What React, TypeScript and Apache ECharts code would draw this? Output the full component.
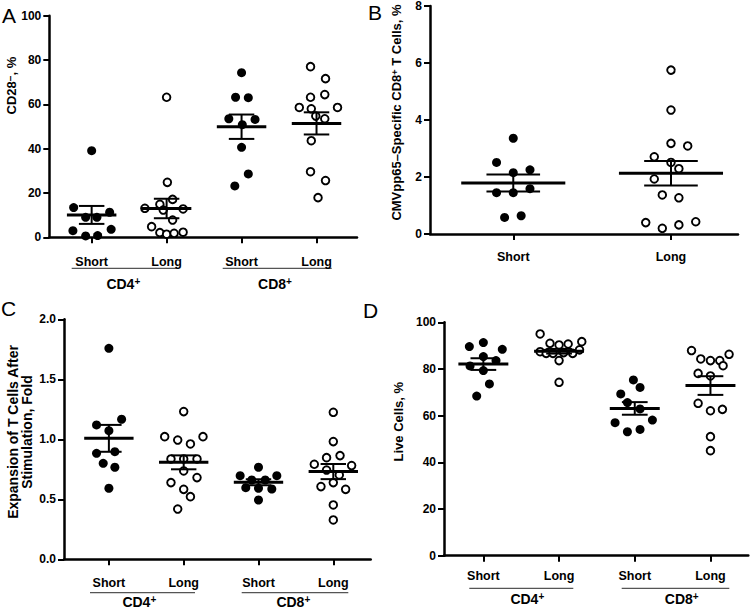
import React, { useEffect, useRef } from 'react';
import * as echarts from 'echarts';

const FONT = 'Arial, Liberation Sans, sans-serif';

// ---------- tick / category labels ----------
const catsFour = ['Short', 'Long', 'Short', 'Long'];
const catsTwo = ['Short', 'Long'];

// ---------- Panel A: CD28-, % ([jitter offset, value]) ----------
const aCD4Short = [[0, 39.1], [-0.24, 13.4], [0.24, 11.3], [-0.08, 9.0], [0.07, 9.0], [-0.25, 3.0], [0.26, 3.6], [-0.08, 0.6], [0.08, 0.8]];
const aCD4Long = [[0, 63.2], [0.01, 24.8], [0.08, 17.1], [-0.09, 14.9], [-0.29, 13.1], [0.22, 12.8], [-0.045, 12.3], [0.08, 7.8], [-0.2, 4.8], [-0.09, 2.1], [0, 1.4], [0.1, 1.8], [0.22, 2.3]];
const aCD8Short = [[0, 74.3], [-0.08, 63.2], [0.09, 63.0], [-0.17, 53.5], [0.01, 50.8], [0.18, 53.2], [0, 40.6], [0.09, 28.6], [-0.09, 23.2]];
const aCD8Long = [[-0.08, 77.0], [0.12, 71.6], [-0.08, 63.2], [0.11, 64.4], [-0.23, 58.6], [-0.07, 58.0], [0.28, 58.6], [-0.01, 54.7], [0.11, 53.5], [-0.07, 43.6], [-0.08, 29.6], [0.12, 25.6], [0.02, 17.9]];
const aMeans = [10.1, 13.0, 49.9, 51.4];
const aSems = [4.05, 4.4, 5.5, 5.0];

// ---------- Panel B: CMVpp65-specific CD8+ T cells, % ----------
const bShort = [[0, 3.36], [-0.106, 2.51], [0, 2.15], [0.106, 2.25], [-0.106, 1.45], [0, 1.45], [0.106, 1.59], [-0.055, 0.58], [0.05, 0.64]];
const bLong = [[0, 5.75], [0, 4.35], [0, 3.18], [0.106, 3.09], [-0.106, 2.71], [0, 2.51], [0.05, 2.29], [-0.106, 1.93], [-0.055, 1.37], [0.05, 1.27], [-0.16, 0.4], [-0.055, 0.2], [0.05, 0.32], [0.157, 0.43]];
const bMeans = [1.79, 2.13];
const bSems = [0.3, 0.43];

// ---------- Panel C: Expansion after stimulation, fold ----------
const cCD4Short = [[0, 1.758], [-0.165, 1.12], [0.17, 1.167], [0, 1.072], [-0.165, 0.883], [0.08, 0.897], [-0.076, 0.8], [0.08, 0.767], [0, 0.592]];
const cCD4Long = [[0, 1.231], [-0.254, 1.022], [-0.08, 0.994], [0.258, 1.022], [0.09, 0.961], [-0.17, 0.836], [0, 0.836], [0.178, 0.836], [0, 0.736], [-0.17, 0.639], [0.178, 0.681], [0, 0.583], [0.09, 0.522], [-0.08, 0.419]];
const cCD8Short = [[0, 0.767], [-0.245, 0.697], [-0.09, 0.661], [0.09, 0.661], [0.245, 0.697], [-0.17, 0.597], [0, 0.592], [0.178, 0.586], [0, 0.494]];
const cCD8Long = [[0, 1.225], [0, 0.981], [-0.09, 0.847], [0.09, 0.864], [-0.254, 0.792], [-0.09, 0.744], [0.245, 0.781], [0.08, 0.703], [-0.165, 0.606], [0, 0.639], [0.165, 0.583], [0, 0.453], [0, 0.328]];
const cMeans = [1.008, 0.808, 0.642, 0.731];
const cSems = [0.112, 0.058, 0.025, 0.063];

// ---------- Panel D: Live cells, % ----------
const dCD4Short = [[0, 91.3], [-0.185, 89.6], [0.25, 88.4], [0, 85.3], [0.167, 83.6], [-0.176, 81.3], [0, 79.3], [0.08, 73.6], [-0.088, 68.4]];
const dCD4Long = [[-0.25, 95.0], [-0.12, 91.0], [0, 90.3], [0.12, 90.7], [0.3, 91.7], [-0.25, 87.4], [-0.17, 86.7], [-0.08, 86.7], [0.06, 87.0], [0.18, 86.7], [0.27, 88.2], [0, 83.6], [0, 74.3]];
const dCD8Short = [[-0.018, 75.3], [0.07, 72.1], [-0.185, 69.3], [-0.097, 65.6], [0.07, 62.9], [-0.26, 57.0], [0.233, 58.1], [-0.097, 53.1], [0.07, 54.1]];
const dCD8Long = [[-0.25, 87.9], [-0.128, 84.3], [0, 83.6], [0.123, 83.6], [0.246, 86.3], [-0.163, 78.1], [0, 77.0], [0.167, 81.4], [-0.163, 65.3], [0, 62.1], [0.158, 62.7], [0, 51.0], [0, 45.0]];
const dMeans = [82.1, 87.6, 63.1, 72.9];
const dSems = [2.5, 1.0, 2.7, 4.0];

type Panel = {
  grid: { left: number; top: number; width: number; height: number };
  xMin: number; xMax: number;
  yMin: number; yMax: number; yInt: number;
  cats: string[];
  groups: number[][][];
  means: number[];
  sems: number[];
  labelMargin: number;
  fmt: (v: number) => string;
};

const panels: Panel[] = [
  {
    grid: { left: 49.3, top: 15.7, width: 307.7, height: 221.6 },
    xMin: 0.435, xMax: 4.54, yMin: 0, yMax: 100, yInt: 20,
    cats: catsFour, groups: [aCD4Short, aCD4Long, aCD8Short, aCD8Long],
    means: aMeans, sems: aSems, labelMargin: 18, fmt: (v) => String(v),
  },
  {
    grid: { left: 430, top: 6, width: 308, height: 228 },
    xMin: 0.472, xMax: 2.425, yMin: 0, yMax: 8, yInt: 2,
    cats: catsTwo, groups: [bShort, bLong],
    means: bMeans, sems: bSems, labelMargin: 16, fmt: (v) => String(v),
  },
  {
    grid: { left: 64, top: 319.3, width: 306.7, height: 240 },
    xMin: 0.4, xMax: 4.5, yMin: 0, yMax: 2, yInt: 0.5,
    cats: catsFour, groups: [cCD4Short, cCD4Long, cCD8Short, cCD8Long],
    means: cMeans, sems: cSems, labelMargin: 17, fmt: (v) => v.toFixed(1),
  },
  {
    grid: { left: 444, top: 322.3, width: 304.3, height: 233.4 },
    xMin: 0.48, xMax: 4.5, yMin: 0, yMax: 100, yInt: 20,
    cats: catsFour, groups: [dCD4Short, dCD4Long, dCD8Short, dCD8Long],
    means: dMeans, sems: dSems, labelMargin: 14, fmt: (v) => String(v),
  },
];

function buildOption() {
  const grid: any[] = [];
  const xAxis: any[] = [];
  const yAxis: any[] = [];
  const series: any[] = [];

  panels.forEach((p, pi) => {
    grid.push({ ...p.grid, containLabel: false });
    const ticks = p.cats.map((_, i) => i + 1);
    xAxis.push({
      type: 'value', gridIndex: pi, min: p.xMin, max: p.xMax,
      splitLine: { show: false },
      axisLine: { show: true, lineStyle: { color: '#000', width: 2.5 } },
      axisTick: { show: true, customValues: ticks, length: 6, lineStyle: { color: '#000', width: 2 } },
      axisLabel: {
        show: true, customValues: ticks, margin: p.labelMargin,
        formatter: (v: number) => p.cats[Math.round(v) - 1] || '',
        color: '#000', fontWeight: 'bold', fontSize: 12.5, fontFamily: FONT,
      },
    });
    yAxis.push({
      type: 'value', gridIndex: pi, min: p.yMin, max: p.yMax, interval: p.yInt,
      splitLine: { show: false },
      axisLine: { show: true, lineStyle: { color: '#000', width: 2.5 } },
      axisTick: { show: true, length: 6, lineStyle: { color: '#000', width: 2 } },
      axisLabel: {
        margin: 8, formatter: p.fmt,
        color: '#000', fontWeight: 'bold', fontSize: 12, fontFamily: FONT,
      },
    });

    p.groups.forEach((g, gi) => {
      const filled = gi % 2 === 0;
      series.push({
        type: 'scatter', xAxisIndex: pi, yAxisIndex: pi,
        data: g.map(([dx, v]) => [gi + 1 + dx, v]),
        symbol: 'circle',
        symbolSize: filled ? 9 : 7.6,
        itemStyle: filled
          ? { color: '#000', borderWidth: 0, opacity: 1 }
          : { color: '#fff', borderColor: '#000', borderWidth: 1.9, opacity: 1 },
        emphasis: { disabled: true },
        z: 2,
      });
    });

    series.push({
      type: 'custom', xAxisIndex: pi, yAxisIndex: pi, z: 5,
      clip: false,
      encode: { x: 0, y: 1 },
      data: p.means.map((m, i) => [i + 1, m, p.sems[i]]),
      renderItem: (params: any, api: any) => {
        const x = api.value(0);
        const m = api.value(1);
        const s = api.value(2);
        const l = api.coord([x - 0.33, m]);
        const r = api.coord([x + 0.33, m]);
        const t = api.coord([x, m + s]);
        const b = api.coord([x, m - s]);
        const tl = api.coord([x - 0.17, m + s]);
        const tr = api.coord([x + 0.17, m + s]);
        const bl = api.coord([x - 0.17, m - s]);
        const br = api.coord([x + 0.17, m - s]);
        const thin = { stroke: '#000', lineWidth: 2 };
        return {
          type: 'group',
          children: [
            { type: 'line', shape: { x1: t[0], y1: t[1], x2: b[0], y2: b[1] }, style: thin },
            { type: 'line', shape: { x1: tl[0], y1: tl[1], x2: tr[0], y2: tr[1] }, style: thin },
            { type: 'line', shape: { x1: bl[0], y1: bl[1], x2: br[0], y2: br[1] }, style: thin },
            { type: 'line', shape: { x1: l[0], y1: l[1], x2: r[0], y2: r[1] }, style: { stroke: '#000', lineWidth: 3 } },
          ],
        };
      },
    });
  });

  const letter = (t: string, x: number, y: number) => ({
    type: 'text', x, y,
    style: { text: t, fontSize: 21, fontFamily: FONT, fill: '#000', verticalAlign: 'middle', align: 'left' },
  });

  const supRich = (base: number, sup: number) => ({
    b: { fontSize: base, fontWeight: 'bold', fontFamily: FONT, fill: '#000', lineHeight: base + 3, verticalAlign: 'top' },
    s: { fontSize: sup, fontWeight: 'bold', fontFamily: FONT, fill: '#000', lineHeight: sup, verticalAlign: 'top' },
  });

  const groupLabel = (x: number, y: number, txt: string) => ({
    type: 'text', x, y,
    style: {
      text: `{b|${txt}}{s|+}`, rich: supRich(14, 10),
      align: 'center', verticalAlign: 'middle',
    },
  });

  const underline = (x1: number, x2: number, y: number) => ({
    type: 'line', shape: { x1, y1: y, x2, y2: y },
    style: { stroke: '#555', lineWidth: 1.2 },
  });

  const graphic: any[] = [
    letter('A', 2, 15),
    letter('B', 368, 12.5),
    letter('C', 1, 308),
    letter('D', 363, 310),
    // y-axis titles
    {
      type: 'text', x: 13, y: 85.5, rotation: Math.PI / 2,
      style: { text: '{b|CD28}{s|−}{b|, %}', rich: supRich(13, 10), align: 'center', verticalAlign: 'middle' },
    },
    {
      type: 'text', x: 398, y: 112.5, rotation: Math.PI / 2,
      style: { text: '{b|CMVpp65–Specific CD8}{s|+}{b| T Cells, %}', rich: supRich(13, 9), align: 'center', verticalAlign: 'middle' },
    },
    {
      type: 'text', x: 20, y: 432, rotation: Math.PI / 2,
      style: {
        text: 'Expansion of T Cells After\nStimulation, Fold', fontSize: 14, lineHeight: 14,
        fontWeight: 'bold', fontFamily: FONT, fill: '#000', align: 'center', verticalAlign: 'middle',
      },
    },
    {
      type: 'text', x: 398.5, y: 421.7, rotation: Math.PI / 2,
      style: {
        text: 'Live Cells, %', fontSize: 13,
        fontWeight: 'bold', fontFamily: FONT, fill: '#000', align: 'center', verticalAlign: 'middle',
      },
    },
    // group underlines & labels
    underline(71.7, 176.7, 268.3), underline(222.7, 331.7, 268.3),
    groupLabel(123.3, 285, 'CD4'), groupLabel(275, 285, 'CD8'),
    underline(90, 195, 592.7), underline(241.7, 348.3, 592.7),
    groupLabel(139.3, 603.3, 'CD4'), groupLabel(293.3, 603.3, 'CD8'),
    underline(469.3, 573.3, 588.3), underline(621.7, 729.3, 588.3),
    groupLabel(527.3, 600, 'CD4'), groupLabel(681.7, 600, 'CD8'),
  ];

  return {
    animation: false,
    backgroundColor: '#fff',
    grid, xAxis, yAxis, series, graphic,
  };
}

export default function App() {
  const ref = useRef<HTMLDivElement>(null);
  useEffect(() => {
    document.body.style.margin = '0';
    const chart = echarts.init(ref.current as HTMLDivElement, null, { renderer: 'svg' });
    chart.setOption(buildOption() as any);
    return () => chart.dispose();
  }, []);
  return <div ref={ref} style={{ width: 751, height: 611, background: '#fff' }} />;
}
